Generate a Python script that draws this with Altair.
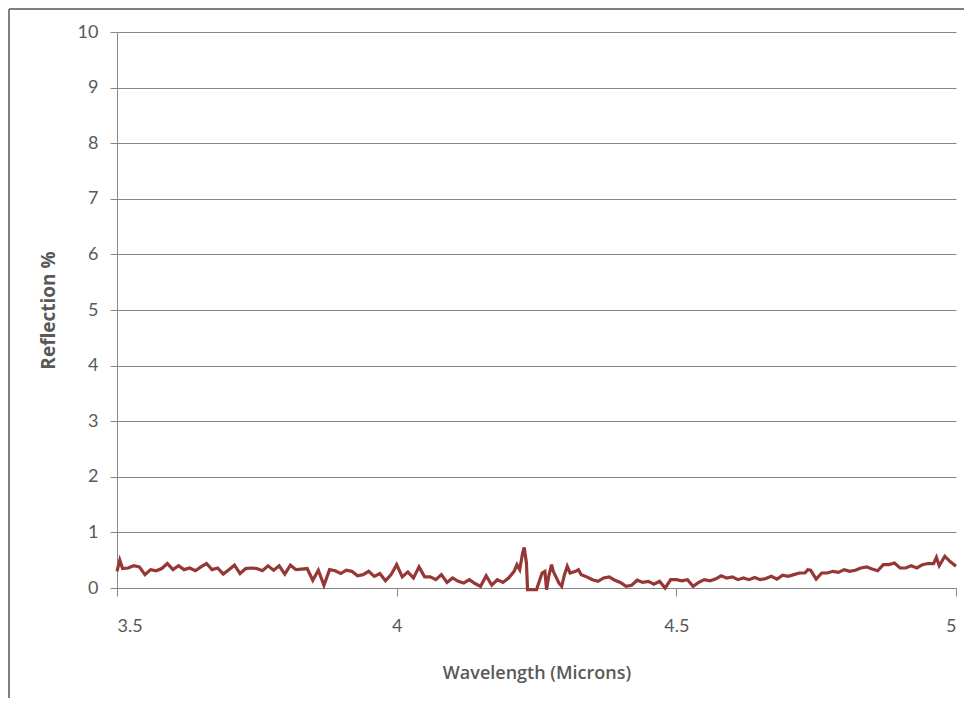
import altair as alt
import pandas as pd

wavelength = [
    3.50, 3.505, 3.51, 3.52, 3.53, 3.54, 3.55, 3.56, 3.57, 3.58, 3.59,
    3.60, 3.61, 3.62, 3.63, 3.64, 3.65, 3.66, 3.67, 3.68, 3.69,
    3.70, 3.71, 3.72, 3.73, 3.74, 3.75, 3.76, 3.77, 3.78, 3.79,
    3.80, 3.81, 3.82, 3.83, 3.84, 3.85, 3.86, 3.87, 3.88, 3.89,
    3.90, 3.91, 3.92, 3.93, 3.94, 3.95, 3.96, 3.97, 3.98, 3.99,
    4.00, 4.01, 4.02, 4.03, 4.04, 4.05, 4.06, 4.07, 4.08, 4.09,
    4.10, 4.11, 4.12, 4.13, 4.14, 4.15, 4.16, 4.17, 4.18, 4.19,
    4.20, 4.21, 4.215, 4.22, 4.225, 4.228, 4.232, 4.234, 4.238, 4.25,
    4.255, 4.26, 4.265, 4.268, 4.272, 4.277, 4.28, 4.29, 4.295,
    4.30, 4.305, 4.31, 4.32, 4.325, 4.33, 4.34, 4.35, 4.36, 4.37, 4.38, 4.39,
    4.40, 4.41, 4.42, 4.43, 4.44, 4.45, 4.46, 4.47, 4.48, 4.49,
    4.50, 4.51, 4.52, 4.53, 4.54, 4.55, 4.56, 4.57, 4.58, 4.59,
    4.60, 4.61, 4.62, 4.63, 4.64, 4.65, 4.66, 4.67, 4.68, 4.69,
    4.70, 4.71, 4.72, 4.73, 4.735, 4.74, 4.75, 4.76, 4.77, 4.78, 4.79,
    4.80, 4.81, 4.82, 4.83, 4.84, 4.85, 4.86, 4.87, 4.88, 4.89,
    4.90, 4.91, 4.92, 4.93, 4.94, 4.95, 4.96, 4.965, 4.97, 4.98, 4.99, 5.00,
]

reflection = [
    0.30, 0.50, 0.35, 0.36, 0.40, 0.38, 0.24, 0.33, 0.31, 0.35, 0.44,
    0.33, 0.40, 0.33, 0.36, 0.31, 0.38, 0.44, 0.33, 0.36, 0.25,
    0.33, 0.41, 0.26, 0.35, 0.36, 0.35, 0.31, 0.40, 0.32, 0.40,
    0.25, 0.41, 0.33, 0.34, 0.35, 0.14, 0.32, 0.05, 0.33, 0.31,
    0.26, 0.32, 0.30, 0.22, 0.24, 0.30, 0.21, 0.26, 0.13, 0.24,
    0.42, 0.20, 0.29, 0.18, 0.38, 0.20, 0.20, 0.15, 0.24, 0.10,
    0.18, 0.12, 0.09, 0.15, 0.08, 0.03, 0.22, 0.05, 0.15, 0.10,
    0.18, 0.30, 0.42, 0.33, 0.62, 0.73, 0.45, -0.03, -0.03, -0.03,
    0.12, 0.27, 0.30, -0.03, 0.22, 0.42, 0.30, 0.09, 0.03,
    0.24, 0.39, 0.27, 0.30, 0.33, 0.24, 0.20, 0.15, 0.12, 0.18, 0.20, 0.14,
    0.10, 0.03, 0.05, 0.14, 0.10, 0.12, 0.07, 0.12, 0.00, 0.15,
    0.15, 0.13, 0.15, 0.03, 0.10, 0.15, 0.13, 0.16, 0.22, 0.18,
    0.20, 0.15, 0.18, 0.15, 0.19, 0.15, 0.17, 0.21, 0.16, 0.23,
    0.21, 0.24, 0.27, 0.27, 0.33, 0.32, 0.16, 0.27, 0.27, 0.30, 0.28,
    0.33, 0.30, 0.32, 0.36, 0.38, 0.34, 0.31, 0.42, 0.42, 0.45,
    0.36, 0.36, 0.40, 0.36, 0.42, 0.44, 0.44, 0.55, 0.40, 0.57, 0.47, 0.39,
]

x_ticks = [3.5, 4, 4.5, 5]
y_ticks = list(range(0, 11))

df = pd.DataFrame({"Wavelength": wavelength, "Reflection": reflection})

GRAY = "#868686"
TEXT = "#595959"
FONT = "Lato"
TITLE_FONT = "Open Sans"

line = alt.Chart(df).mark_line(color="#953735", strokeWidth=3.2, clip=False).encode(
    x=alt.X(
        "Wavelength:Q",
        scale=alt.Scale(domain=[3.5, 5], nice=False, zero=False),
        axis=alt.Axis(
            values=x_ticks,
            format="~g",
            title="Wavelength (Microns)",
            grid=False,
            tickSize=8,
            labelPadding=21,
            titlePadding=29,
            titleFontWeight=600,
            titleFontSize=18,
        ),
    ),
    y=alt.Y(
        "Reflection:Q",
        scale=alt.Scale(domain=[0, 10], nice=False),
        axis=alt.Axis(
            values=y_ticks,
            title="Reflection %",
            grid=True,
            tickSize=7,
            labelPadding=12,
            titlePadding=19,
            titleFontWeight="bold",
            titleFontSize=19,
        ),
    ),
)

frame_data = alt.Data(values=[{"a": 1}])
top_border = alt.Chart(frame_data).mark_rule(color="#7f7f7f", strokeWidth=2).encode(
    x=alt.value(-108), x2=alt.value(847), y=alt.value(-23)
)
left_border = alt.Chart(frame_data).mark_rule(color="#7f7f7f", strokeWidth=2).encode(
    x=alt.value(-108), y=alt.value(-23), y2=alt.value(670)
)

chart = (
    alt.layer(top_border, left_border, line)
    .properties(
        width=839,
        height=556,
        padding={"left": 109, "top": 24, "right": 8, "bottom": 110},
        autosize=alt.AutoSizeParams(type="none"),
    )
    .configure_view(stroke=None)
    .configure_axis(
        domainColor=GRAY,
        tickColor=GRAY,
        gridColor=GRAY,
        gridWidth=1,
        domainWidth=1,
        labelFont=FONT,
        titleFont=TITLE_FONT,
        labelFontSize=18,
        labelColor=TEXT,
        titleColor=TEXT,
    )
)

chart.save("out.html", embed_options={"renderer": "svg", "actions": False})
